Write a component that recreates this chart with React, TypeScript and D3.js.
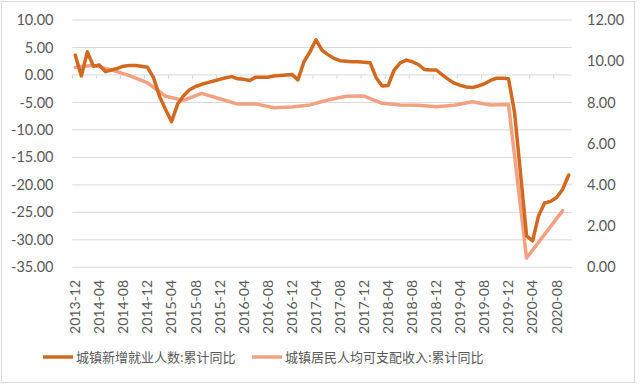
import React, { useRef, useEffect } from "react";
import * as d3 from "d3";

// monthly categories 2013-12 .. 2020-10
const months = d3
    .timeMonth.range(new Date(2013, 11, 1), new Date(2020, 10, 1))
    .map(d3.timeFormat("%Y-%m"));

// 城镇新增就业人数:累计同比 (left axis, monthly)
const employment = [
    3.6, -0.2, 4.2, 1.6, 1.8, 0.6, 0.9, 1.2, 1.6, 1.7, 1.7, 1.6,
    1.4, -0.5, -3.9, -6.3, -8.5, -5.3, -3.8, -2.7, -2.1, -1.7, -1.4, -1.1,
    -0.8, -0.5, -0.3, -0.7, -0.8, -1.0, -0.4, -0.4, -0.4, -0.2, -0.1, 0.0,
    0.1, -0.9, 2.4, 4.2, 6.4, 4.5, 3.7, 3.0, 2.6, 2.5, 2.4, 2.4,
    2.3, 2.2, -0.5, -2.0, -1.9, 0.9, 2.2, 2.7, 2.4, 1.9, 1.0, 0.9,
    0.9, 0.0, -0.8, -1.5, -1.9, -2.2, -2.3, -2.0, -1.6, -1.0, -0.6, -0.6,
    -0.7, -6.8, -18.0, -29.3, -30.2, -25.6, -23.3, -23.0, -22.3, -20.8, -18.2,
];

// 城镇居民人均可支配收入:累计同比 (right axis, quarterly: 2013-12, 2014-03 ... 2020-09)
const income = [
    9.7, 9.8, 9.58, 9.3, 8.95, 8.3, 8.1, 8.44, 8.18, 7.92, 7.93, 7.74, 7.78, 7.88,
    8.12, 8.3, 8.31, 7.96, 7.87, 7.86, 7.79, 7.86, 8.03, 7.88, 7.9, 0.45, 1.6, 2.75,
];
const incomeMonths = months.filter((_, i) => i % 3 === 0).slice(0, income.length);

const leftTicks = [10, 5, 0, -5, -10, -15, -20, -25, -30, -35];
const rightTicks = [12, 10, 8, 6, 4, 2, 0];
const labelMonths = months.filter((_, i) => i % 4 === 0);

const seriesNames = ["城镇新增就业人数:累计同比", "城镇居民人均可支配收入:累计同比"];
const colors = ["#D3691F", "#F2A283"];

const App = () => {
    const svgRef = useRef(null);

    useEffect(() => {
        const width = 640;
        const height = 385;
        const plot = { left: 72.3, right: 571.7, top: 20, bottom: 267.3 };
        const font = "Lato, 'Liberation Sans', sans-serif";

        const svg = d3.select(svgRef.current).attr("width", width).attr("height", height);
        svg.selectAll("*").remove();

        svg.append("rect")
            .attr("x", 1.5).attr("y", 1.5)
            .attr("width", 633).attr("height", 381)
            .attr("fill", "#fff").attr("stroke", "#D9D9D9");

        const x = d3.scaleBand().domain(months).range([plot.left, plot.right]).padding(0);
        const cx = (m) => x(m) + x.bandwidth() / 2;
        const yL = d3.scaleLinear().domain([-35, 10]).range([plot.bottom, plot.top]);
        const yR = d3.scaleLinear().domain([0, 12]).range([plot.bottom, plot.top]);

        // gridlines
        svg.append("g")
            .selectAll("line")
            .data(leftTicks)
            .enter()
            .append("line")
            .attr("x1", plot.left).attr("x2", plot.right)
            .attr("y1", (d) => yL(d)).attr("y2", (d) => yL(d))
            .attr("stroke", "#D9D9D9").attr("stroke-width", 1);

        // category axis at 0 with tick marks every 4 months
        svg.append("g")
            .selectAll("line")
            .data(labelMonths)
            .enter()
            .append("line")
            .attr("x1", (d) => x(d)).attr("x2", (d) => x(d))
            .attr("y1", yL(0)).attr("y2", yL(0) + 4)
            .attr("stroke", "#D9D9D9");

        // left axis labels
        svg.append("g")
            .selectAll("text")
            .data(leftTicks)
            .enter()
            .append("text")
            .attr("x", 53.5)
            .attr("y", (d) => yL(d))
            .attr("dy", "0.35em")
            .attr("text-anchor", "end")
            .style("font-family", font)
            .style("font-size", "14.5px")
            .attr("fill", "#595959")
            .text((d) => d.toFixed(2));

        // right axis labels
        svg.append("g")
            .selectAll("text")
            .data(rightTicks)
            .enter()
            .append("text")
            .attr("x", 587)
            .attr("y", (d) => yR(d))
            .attr("dy", "0.35em")
            .attr("text-anchor", "start")
            .style("font-family", font)
            .style("font-size", "14.5px")
            .attr("fill", "#595959")
            .text((d) => d.toFixed(2));

        // x labels, rotated
        svg.append("g")
            .selectAll("text")
            .data(labelMonths)
            .enter()
            .append("text")
            .attr("transform", (d) => `translate(${cx(d)}, 280) rotate(-90)`)
            .attr("dy", "0.35em")
            .attr("text-anchor", "end")
            .style("font-family", font)
            .style("font-size", "14px")
            .attr("fill", "#595959")
            .text((d) => d);

        // lines
        const empLine = d3.line()
            .x((d, i) => cx(months[i]))
            .y((d) => yL(d));
        const incLine = d3.line()
            .x((d, i) => cx(incomeMonths[i]))
            .y((d) => yR(d));

        svg.append("path")
            .attr("d", incLine(income))
            .attr("fill", "none")
            .attr("stroke", colors[1])
            .attr("stroke-width", 3.5)
            .attr("stroke-linejoin", "round")
            .attr("stroke-linecap", "round");

        svg.append("path")
            .attr("d", empLine(employment))
            .attr("fill", "none")
            .attr("stroke", colors[0])
            .attr("stroke-width", 3.5)
            .attr("stroke-linejoin", "round")
            .attr("stroke-linecap", "round");

        // legend
        const legendItems = [
            { x: 43, name: seriesNames[0], color: colors[0] },
            { x: 252, name: seriesNames[1], color: colors[1] },
        ];
        const lg = svg.append("g")
            .selectAll("g")
            .data(legendItems)
            .enter()
            .append("g")
            .attr("transform", (d) => `translate(${d.x}, 357)`);
        lg.append("line")
            .attr("x1", 0).attr("x2", 30)
            .attr("stroke", (d) => d.color)
            .attr("stroke-width", 3.5);
        lg.append("text")
            .attr("x", 33)
            .attr("dy", "0.35em")
            .style("font-family", "'Noto Sans CJK SC', sans-serif")
            .style("font-size", "13px")
            .attr("fill", "#595959")
            .text((d) => d.name);
    }, []);

    return (
        <svg ref={svgRef} style={{ display: "block", position: "absolute", left: 0, top: 0 }}></svg>
    );
};

export default App;
